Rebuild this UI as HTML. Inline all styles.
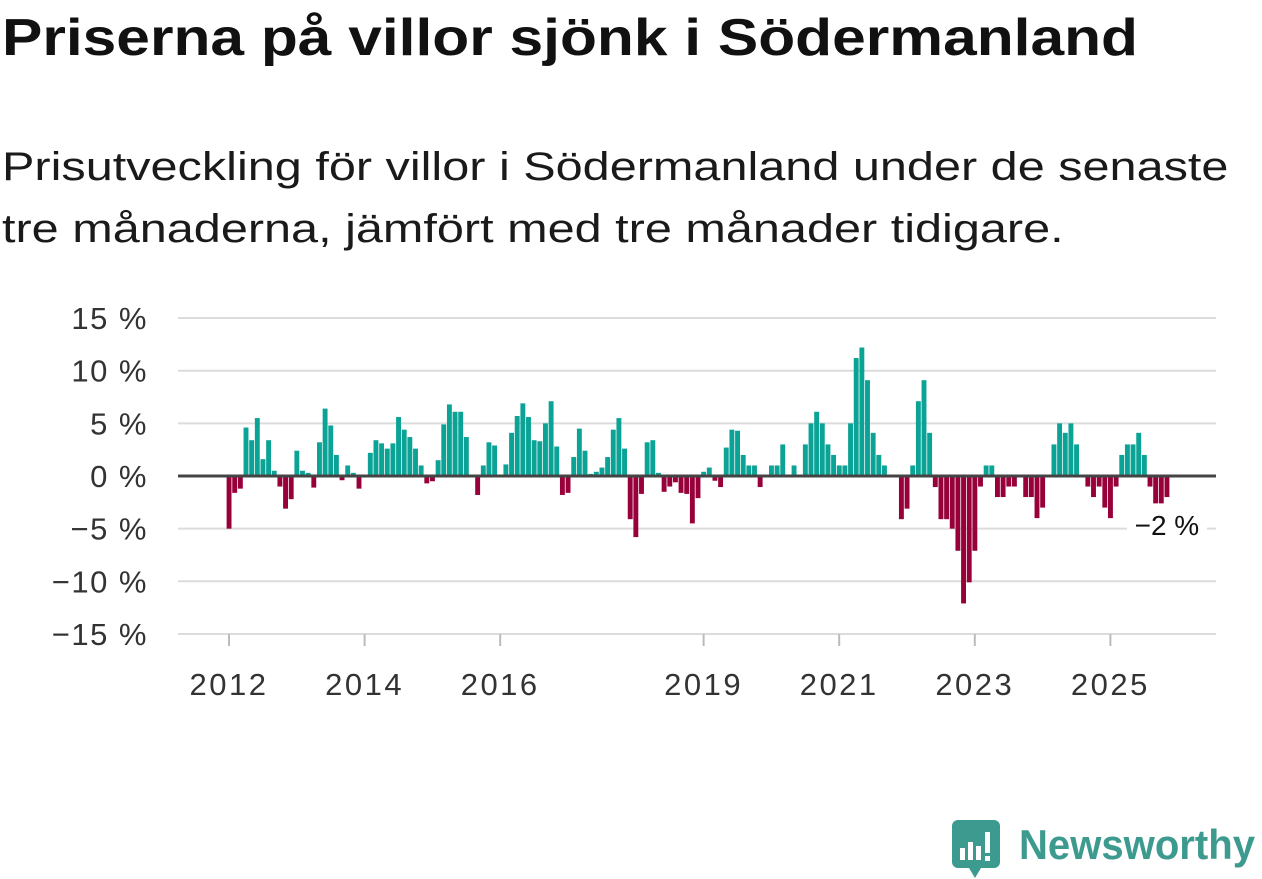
<!DOCTYPE html>
<html><head><meta charset="utf-8"><style>
body{margin:0;width:1262px;height:879px;background:#fff;overflow:hidden;font-family:"Liberation Sans",sans-serif;position:relative}
#title{position:absolute;left:2px;top:8px;font-size:52px;font-weight:bold;color:#111;margin:0;white-space:nowrap;transform:scaleX(1.163);transform-origin:0 0}
#sub{position:absolute;left:2px;top:136px;font-size:40px;line-height:62px;color:#1a1a1a;margin:0;white-space:nowrap;transform:scaleX(1.215);transform-origin:0 0}
svg{position:absolute;left:0;top:0}
</style></head><body>
<h1 id="title">Priserna på villor sjönk i Södermanland</h1>
<p id="sub">Prisutveckling för villor i Södermanland under de senaste<br>tre månaderna, jämfört med tre månader tidigare.</p>
<svg id="chart" width="1262" height="879"></svg>
<svg width="1262" height="879">
<path d="M958 820h36a6 6 0 0 1 6 6v36a6 6 0 0 1-6 6h-13l-6 10-6-10h-11a6 6 0 0 1-6-6v-36a6 6 0 0 1 6-6z" fill="#3d9a8f"/>
<rect x="960" y="848" width="5" height="12" fill="#fff"/><rect x="968" y="842" width="5" height="18" fill="#fff"/><rect x="976" y="846" width="5" height="14" fill="#fff"/><rect x="985" y="832" width="5" height="21" fill="#fff"/><rect x="985" y="856" width="5" height="5" fill="#fff"/>
<text x="1019" y="859" font-size="42" font-weight="bold" fill="#3d9a8f" textLength="236" lengthAdjust="spacingAndGlyphs" font-family="Liberation Sans, sans-serif">Newsworthy</text>
</svg>
<script>
const values=[-5,-1.6,-1.2,4.6,3.4,5.5,1.6,3.4,0.5,-1.0,-3.1,-2.2,2.4,0.5,0.3,-1.1,3.2,6.4,4.8,2.0,-0.4,1.0,0.3,-1.2,0,2.2,3.4,3.1,2.6,3.1,5.6,4.4,3.7,2.6,1.0,-0.7,-0.5,1.5,4.9,6.8,6.1,6.1,3.7,
0,-1.8,1.0,3.2,2.9,0,1.1,4.1,5.7,6.9,5.6,3.4,3.3,5.0,7.1,2.8,-1.8,-1.6,1.8,4.5,2.4,0.2,0.4,0.8,1.8,4.4,5.5,2.6,-4.1,-5.8,-1.7,3.2,3.4,0.3,-1.5,-1.0,-0.6,-1.6,-1.7,-4.5,-2.1,0.4,0.8,
-0.45,-1.05,2.7,4.4,4.3,2.0,1.0,1.0,-1.05,0,1.0,1.0,3.0,0,1.0,0,3.0,5.0,6.1,5.0,3.0,2.0,1.0,1.0,5.0,11.2,12.2,9.1,4.1,2.0,1.0,0,0,-4.1,-3.1,1.0,7.1,9.1,4.1,-1.05,-4.1,-4.1,
-5.0,-7.1,-12.1,-10.1,-7.1,-1.0,1.0,1.0,-2.0,-2.0,-1.0,-1.0,0,-2.0,-2.0,-4.0,-3.0,0,3.0,5.0,4.1,5.0,3.0,0,-1.0,-2.0,-1.0,-3.0,-4.0,-1.0,2.0,3.0,3.0,4.1,2.0,-1.0,-2.6,-2.6,-2.0];
const yTicks=[15,10,5,0,-5,-10,-15];
const yTickLabels=["15 %","10 %","5 %","0 %","−5 %","−10 %","−15 %"];
const xTickYears=[2012,2014,2016,2019,2021,2023,2025];
const startYear=2012;
const lastLabel="−2 %";
const NS="http://www.w3.org/2000/svg";
const svg=document.getElementById('chart');
const x0=229,mw=5.65,L=178,R=1216;
const y=v=>476-v*10.53;
const x=i=>x0+i*mw;
function mk(t,a,p){const e=document.createElementNS(NS,t);for(const k in a)e.setAttribute(k,a[k]);(p||svg).appendChild(e);return e;}
yTicks.forEach((v,i)=>{
 if(v!==0){const g=mk('line',{x1:L,x2:R,y1:y(v),y2:y(v),stroke:'#dcdcdc','stroke-width':2});
 
 }
 const t=mk('text',{x:148,y:y(v)+11,'text-anchor':'end','font-size':31,fill:'#333','letter-spacing':'1.5'});
 
 
 t.textContent=yTickLabels[i];
});
xTickYears.forEach(yr=>{
 const xx=x((yr-startYear)*12);
 const tk=mk('line',{x1:xx,x2:xx,y1:634,y2:646,stroke:'#bbb','stroke-width':2});
 
 
 const t=mk('text',{x:xx,y:695,'text-anchor':'middle','font-size':31,fill:'#333','letter-spacing':'2.5'});
 
 
 t.textContent=yr;
});
values.forEach((v,i)=>{
 if(v===0)return;
 const top=v>0?y(v):y(0),h=Math.abs(y(v)-y(0));
 const b=mk('rect',{x:x(i)-2.4,y:top,width:4.9,height:h,fill:v>0?'#0ba396':'#98003a'});
 
 
});
const z=mk('line',{x1:L,x2:R,y1:y(0),y2:y(0),stroke:'#444','stroke-width':3});


const lx=x(values.length-1);
const bg=mk('rect',{x:lx-40,y:508,width:80,height:30,fill:'#fff'});


const lt=mk('text',{x:lx,y:535,'text-anchor':'middle','font-size':28,fill:'#111'});


lt.textContent=lastLabel;
</script>
</body></html>
